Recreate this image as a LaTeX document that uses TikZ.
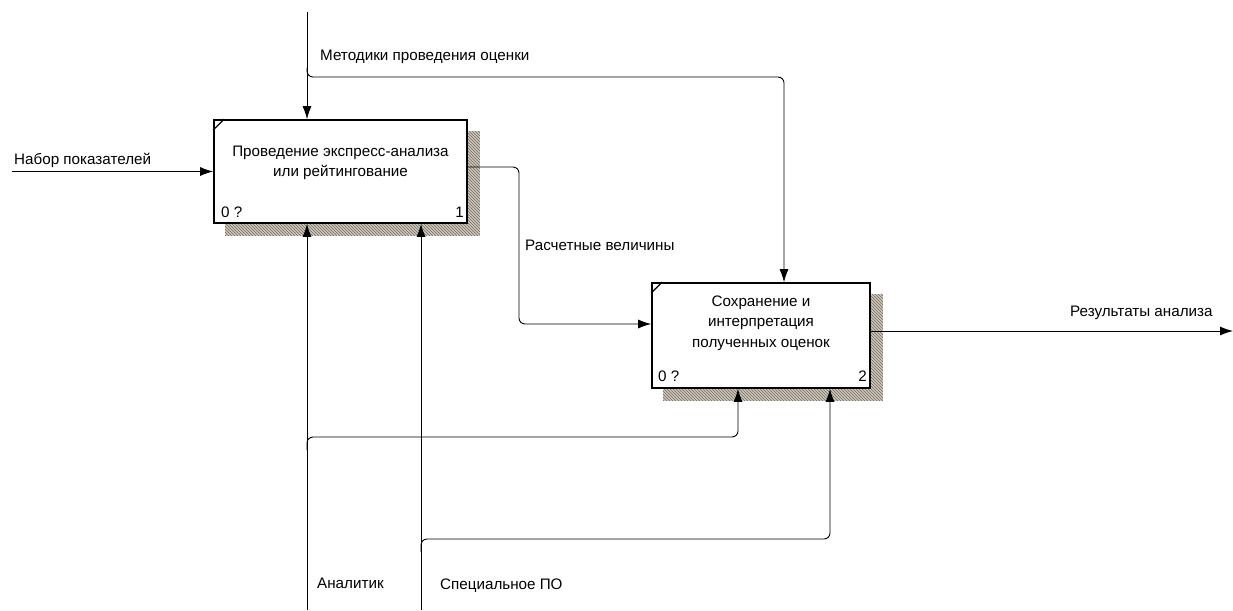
\documentclass[tikz,border=0pt]{standalone}
\usepackage{fontspec}
\setmainfont{Liberation Sans}
\usetikzlibrary{arrows.meta,backgrounds,patterns}
\definecolor{shadowc}{RGB}{115,105,90}
\definecolor{shadowbg}{RGB}{205,200,190}
\begin{document}
\begin{tikzpicture}[x=1pt,y=-1pt,
  fnt/.style={font=\fontsize{15.2}{20.5}\selectfont},
  act/.style={draw,line width=1.7pt,fill=white,minimum width=#1,inner sep=0pt},
  conn/.style={line width=0.9pt,rounded corners=6pt},
  arr/.style={conn,-{Latex[length=13pt,width=9pt]}},
  lbl/.style={fnt,anchor=west,inner sep=0pt},
  shadowbox/.style={fill=shadowbg,postaction={pattern=north west lines,pattern color=shadowc}}]
\useasboundingbox (0,0) rectangle (1233,610);
% activity boxes
\node[act=253pt,minimum height=103pt] (b1) at (340.5,171.5) {};
\node[act=218pt,minimum height=105pt] (b2) at (761,335.5) {};
\begin{scope}[on background layer]
\fill[shadowbox] ([xshift=12pt,yshift=-12pt]b1.south west) rectangle ([xshift=12pt,yshift=-12pt]b1.north east);
\fill[shadowbox] ([xshift=12pt,yshift=-12pt]b2.south west) rectangle ([xshift=12pt,yshift=-12pt]b2.north east);
\end{scope}
\draw[line width=1.2pt] ([yshift=-11pt]b1.north west) -- ([xshift=11pt]b1.north west);
\draw[line width=1.2pt] ([yshift=-11pt]b2.north west) -- ([xshift=11pt]b2.north west);
\node[fnt,align=center] (t1) at (340.5,163) {Проведение экспресс-анализа\\или рейтингование};
\node[fnt,align=center] (t2) at (761,323) {Сохранение и\\интерпретация\\полученных оценок};
\node[lbl] (n1a) at (221,212) {0 ?};
\node[lbl,anchor=east] (n1b) at (464,212) {1};
\node[lbl] (n2a) at (658,376) {0 ?};
\node[lbl,anchor=east] (n2b) at (867,376) {2};
% coordinates
\coordinate (inL) at (12,171.5);
\coordinate (ctop) at (307,12);
\coordinate (cbr) at (307,68);
\coordinate (outR) at (1233,331);
\coordinate (anBot) at (307,610);
\coordinate (anBr) at (307,450);
\coordinate (poBot) at (421,610);
\coordinate (poBr) at (421,552);
% connectors
\draw[arr] (inL) -- (b1.west);
\draw[arr] (ctop) -- (ctop |- b1.north);
\draw[arr] (cbr) -- (307,77) -- (784,77) -- (784,0 |- b2.north);
\draw[arr] (b1.east |- 0,167) -- (519,167) -- (519,324) -- (b2.west |- 0,324);
\draw[arr] (b2.east |- 0,331) -- (outR);
\draw[arr] (anBot) -- (anBot |- b1.south);
\draw[arr] (poBot) -- (poBot |- b1.south);
\draw[arr] (anBr) -- (307,437) -- (738,437) -- (738,0 |- b2.south);
\draw[arr] (poBr) -- (421,539) -- (830,539) -- (830,0 |- b2.south);
% labels
\node[lbl] (l1) at (320,57) {Методики проведения оценки};
\node[lbl] (l2) at (14,160) {Набор показателей};
\node[lbl] (l3) at (525,245) {Расчетные величины};
\node[lbl] (l4) at (1070,313) {Результаты анализа};
\node[lbl] (l5) at (317,583) {Аналитик};
\node[lbl] (l6) at (440,586) {Специальное ПО};
\end{tikzpicture}
\end{document}
